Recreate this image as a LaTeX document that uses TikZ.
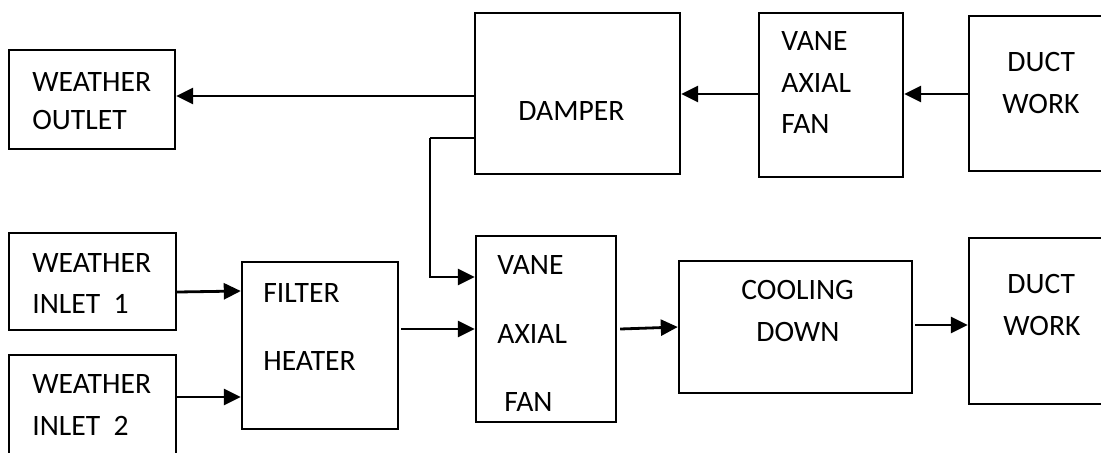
\documentclass[tikz,border=0pt]{standalone}
\usepackage{fontspec}
\setmainfont{Carlito}
\usetikzlibrary{arrows.meta}
\begin{document}
\begin{tikzpicture}[x=0.5pt,y=-0.5pt,
  box/.style={draw,line width=1.2pt,inner sep=0pt,rectangle},
  txt/.style={anchor=base west,inner sep=0pt,font=\fontsize{14.8pt}{17pt}\selectfont},
  arr/.style={line width=1.4pt,-{Triangle[length=8.5pt,width=8pt]}},
  link/.style={line width=1.1pt}]
\useasboundingbox (0,0) rectangle (1101,452);
% boxes
\node[box,minimum width=83pt,minimum height=49.5pt] (outlet) at (92,99.5) {};
\node[box,minimum width=102.5pt,minimum height=80.5pt] (damper) at (577.5,93.5) {};
\node[box,minimum width=72pt,minimum height=82pt] (vane1) at (831,95) {};
\node[box,minimum width=70.5pt,minimum height=77.5pt] (duct1) at (1039.5,93.5) {};
\node[box,minimum width=83.5pt,minimum height=48.5pt] (inlet1) at (92.5,281.5) {};
\node[box,minimum width=83.5pt,minimum height=57.5pt] (inlet2) at (92.5,412.5) {};
\node[box,minimum width=78pt,minimum height=83.5pt] (filter) at (320,345.5) {};
\node[box,minimum width=70pt,minimum height=93pt] (vane2) at (546,329) {};
\node[box,minimum width=116.5pt,minimum height=66pt] (cooling) at (795.5,327) {};
\node[box,minimum width=70.5pt,minimum height=83pt] (duct2) at (1039.5,321) {};
% texts
\node[txt] (t1) at (32,91) {WEATHER};
\node[txt] (t2) at (32,129) {OUTLET};
\node[txt] (t3) at (518,120) {DAMPER};
\node[txt] (t4) at (781,50) {VANE};
\node[txt] (t5) at (781,92) {AXIAL};
\node[txt] (t6) at (781,133) {FAN};
\node[txt] (t7) at (1007,71) {DUCT};
\node[txt] (t8) at (1002,113) {WORK};
\node[txt] (t9) at (32,272) {WEATHER};
\node[txt] (t10) at (32,313) {INLET\ \ 1};
\node[txt] (t11) at (32,393) {WEATHER};
\node[txt] (t12) at (32,435) {INLET\ \ 2};
\node[txt] (t13) at (263,302) {FILTER};
\node[txt] (t14) at (263,370) {HEATER};
\node[txt] (t15) at (497,274) {VANE};
\node[txt] (t16) at (497,343) {AXIAL};
\node[txt] (t17) at (504,411) {FAN};
\node[txt] (t18) at (741,299) {COOLING};
\node[txt] (t19) at (756,341) {DOWN};
\node[txt] (t20) at (1007,293) {DUCT};
\node[txt] (t21) at (1003,335) {WORK};
% connectors
\draw[arr] ([yshift=-1.25pt]damper.west) -- ([yshift=-1.25pt]damper.west -| outlet.east);
\draw[arr] (vane1.west |- 0,94) -- (damper.east |- 0,94);
\draw[arr] (duct1.west |- 0,94) -- (vane1.east |- 0,94);
\coordinate (bend) at (430,138);
\draw[link] ([yshift=-22.25pt]damper.west) -- (bend);
\draw[arr] (bend) |- ([yshift=26pt]vane2.west);
\draw[arr] (inlet1.east |- 0,292) -- (filter.west |- 0,291);
\draw[arr] ([yshift=7.75pt]inlet2.east) -- ([yshift=7.75pt]inlet2.east -| filter.west);
\draw[arr] ([xshift=1pt]filter.east |- vane2.west) -- (vane2.west);
\draw[arr] ([xshift=1.5pt]vane2.east) -- (cooling.west);
\draw[arr] ([xshift=1pt]cooling.east |- 0,325) -- (duct2.west |- 0,325);
\end{tikzpicture}
\end{document}
